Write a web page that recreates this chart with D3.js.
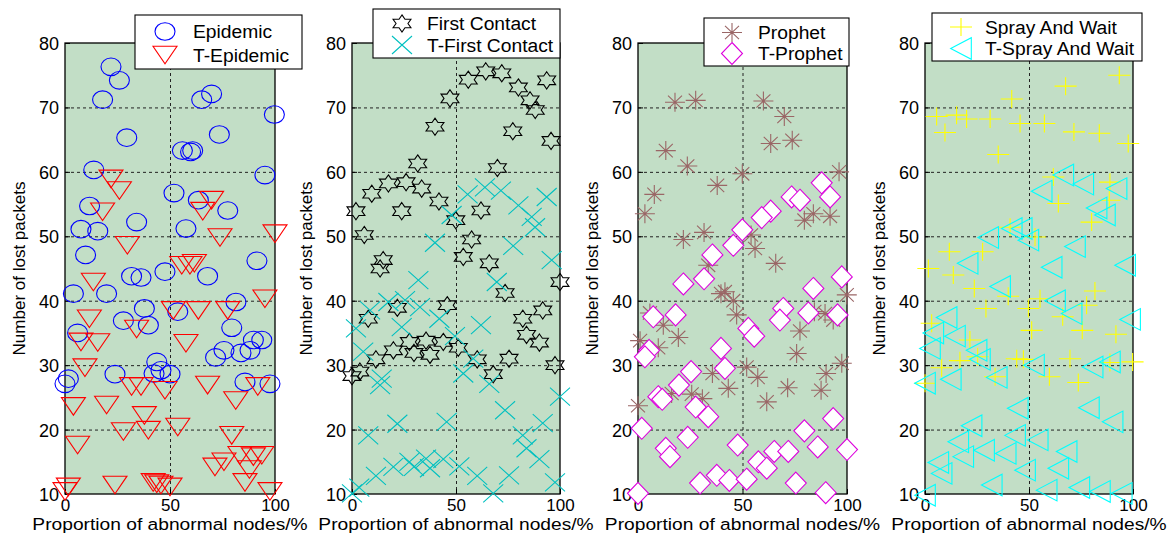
<!DOCTYPE html>
<html>
<head>
<meta charset="utf-8">
<title>Lost packets</title>
<script src="https://d3js.org/d3.v7.min.js"></script>
<style>
  body { margin: 0; background: #fff; }
  text { font-family: "Liberation Sans", Arial, sans-serif; fill: #000; }
</style>
</head>
<body>
<div id="chart"></div>
<script>
// data: [proportion of abnormal nodes %, lost packets]
const epidemic = [[21.9,76.3],[25.9,74.2],[17.9,71.2],[29.4,65.3],[65.1,71.2],[69.8,72.1],[99.7,68.9],[73.5,65.8],[55.9,63.3],[59.8,63.1],[60.8,63.3],[13.7,60.3],[95.2,59.5],[51.9,56.7],[63.5,55.6],[77.5,54.0],[11.7,54.7],[34.1,52.2],[7.6,51.1],[15.6,50.8],[57.6,51.2],[9.8,47.1],[91.4,46.2],[31.7,43.8],[36.2,43.6],[47.6,44.5],[67.9,43.8],[4.0,41.1],[19.8,41.1],[37.8,38.8],[27.8,36.9],[39.7,36.2],[6.0,35.0],[53.7,38.3],[81.4,39.8],[79.4,35.8],[71.7,31.2],[75.7,32.3],[83.8,31.9],[88.1,32.3],[89.7,33.9],[93.7,33.9],[43.7,30.5],[45.7,29.2],[42.4,28.7],[50.0,28.6],[23.8,28.6],[1.6,27.9],[0,27.1],[85.7,27.4],[97.6,27.1]];
const tEpidemic = [[21.9,58.9],[25.9,57.1],[17.9,53.8],[69.8,55.6],[65.6,53.9],[100,50.4],[73.8,49.8],[29.7,48.6],[55.6,45.5],[59.5,45.5],[61.6,45.8],[13.5,42.9],[95.2,40.3],[51.6,38.5],[63.5,38.5],[77.5,38.5],[11.6,37.2],[34.1,35.6],[7.6,33.6],[15.6,33.5],[57.6,33.4],[9.5,29.6],[31.7,26.7],[36.2,26.7],[47.6,26.1],[67.9,26.9],[91.8,26.7],[4.0,23.6],[19.8,23.8],[81.3,24.5],[37.8,22.2],[27.8,19.7],[39.7,19.9],[53.7,20.4],[79.4,19.1],[6.0,17.6],[83.3,16.0],[89.7,15.8],[93.7,16.0],[75.7,15.0],[71.4,14.2],[87.8,13.8],[85.7,11.8],[23.8,11.4],[42.0,11.8],[43.7,11.6],[45.7,11.4],[50.0,11.1],[1.6,11.1],[0,10.4],[97.6,10.4]];
const firstContact = [[55.9,74.3],[64.3,75.6],[72.0,75.3],[80.0,73.1],[93.6,74.2],[85.6,71.1],[88.1,69.6],[47.1,71.4],[39.9,67.0],[77.3,66.3],[95.7,64.8],[31.6,61.3],[69.9,60.6],[9.5,56.6],[17.5,58.2],[26.0,58.4],[33.5,57.4],[23.9,53.9],[1.9,53.9],[41.8,55.4],[49.9,52.5],[62.0,54.0],[5.9,50.2],[57.5,49.5],[53.5,46.8],[15.0,46.3],[13.5,45.0],[66.0,45.8],[100,42.9],[73.6,41.2],[45.8,39.3],[21.8,38.9],[7.8,37.2],[91.7,38.5],[82.1,37.2],[83.9,34.7],[90.1,33.5],[27.6,33.6],[35.6,33.8],[43.9,33.6],[51.1,32.7],[19.9,32.3],[29.8,31.9],[37.5,31.6],[11.5,30.9],[60.2,30.9],[75.5,31.0],[97.6,30.0],[3.8,29.0],[0,28.3],[67.9,28.6]];
const tFirstContact = [[63.9,57.6],[71.6,57.1],[55.6,56.5],[93.6,56.1],[80.0,54.8],[86.4,53.0],[88.0,51.4],[47.9,53.3],[39.9,49.0],[77.5,48.5],[96.0,46.3],[31.9,43.2],[69.6,42.9],[17.5,39.8],[25.5,40.1],[32.7,39.0],[8.7,38.5],[42.0,37.2],[23.9,35.9],[62.0,36.2],[1.9,35.7],[49.5,34.5],[5.4,32.1],[58.3,31.0],[53.5,28.7],[66.0,27.1],[14.3,27.9],[13.5,26.9],[100,25.1],[73.6,23.0],[45.5,21.2],[21.8,20.9],[91.7,21.0],[7.8,19.1],[82.1,19.1],[83.9,17.1],[90.1,15.4],[27.6,15.0],[35.6,15.5],[43.9,15.4],[19.9,14.2],[29.8,14.2],[37.5,14.0],[51.6,14.3],[11.5,12.8],[60.2,12.8],[75.5,12.9],[97.6,11.8],[3.5,11.0],[0,10.1],[67.9,10.1]];
const prophet = [[17.7,70.8],[27.6,71.1],[60.0,71.0],[70.0,68.6],[13.3,63.3],[63.5,64.4],[73.8,64.9],[23.6,60.9],[49.9,59.7],[96.2,60.0],[37.9,57.9],[7.8,56.5],[3.3,53.5],[79.6,52.5],[83.9,53.5],[91.9,53.1],[21.7,49.5],[31.6,50.6],[54.1,50.2],[56.0,48.1],[65.9,45.8],[33.6,45.5],[39.7,41.1],[41.6,41.4],[45.6,40.0],[99.9,40.9],[47.2,37.8],[5.7,38.1],[12.1,36.2],[84.4,38.3],[89.5,38.0],[93.4,37.0],[77.5,35.3],[19.3,34.3],[1.0,33.8],[9.7,32.7],[75.9,31.8],[97.5,30.3],[52.0,29.7],[57.3,28.1],[35.6,28.7],[90.0,28.7],[43.2,26.4],[71.6,26.5],[87.6,26.1],[16.1,25.6],[25.7,25.5],[30.8,24.8],[61.6,24.3],[0,23.7]];
const tProphet = [[87.9,58.3],[91.9,56.1],[73.5,56.1],[77.5,55.6],[63.5,53.9],[59.2,52.9],[49.9,51.0],[45.6,48.6],[35.6,47.1],[97.5,43.7],[21.7,42.6],[31.6,43.4],[83.9,41.9],[7.3,37.5],[18.0,37.8],[69.5,38.8],[67.9,37.0],[81.5,38.1],[95.5,37.8],[52.8,35.7],[55.6,34.5],[39.7,32.6],[5.3,32.3],[3.3,31.3],[25.4,29.0],[41.6,29.5],[19.6,26.9],[9.7,25.1],[11.6,24.7],[27.6,23.5],[33.6,22.0],[93.4,21.7],[1.8,20.2],[79.6,19.8],[23.8,18.8],[13.3,17.1],[15.3,15.8],[47.7,17.6],[86.0,17.3],[100,16.9],[65.2,16.6],[71.9,16.6],[57.6,15.0],[61.6,14.0],[37.7,12.9],[43.7,12.1],[52.0,12.3],[29.7,11.7],[75.5,11.7],[89.8,10.2],[0,10.1]];
const sprayWait = [[93.4,75.0],[67.6,73.3],[41.7,71.3],[5.6,68.6],[15.2,68.8],[20.0,68.2],[31.3,68.2],[45.7,67.5],[57.4,67.5],[9.6,66.1],[71.6,66.2],[83.8,66.0],[97.7,64.4],[35.2,62.7],[61.7,59.2],[88.9,58.4],[88.6,55.6],[64.1,55.1],[80.1,52.2],[40.9,51.4],[52.9,49.9],[11.7,47.6],[27.7,47.6],[1.6,45.0],[13.6,44.0],[23.7,41.9],[81.7,41.5],[40.0,40.7],[55.3,40.3],[77.7,39.3],[29.3,38.8],[49.7,38.8],[66.2,37.5],[3.2,36.5],[75.6,35.4],[51.3,35.4],[91.8,34.8],[21.6,33.9],[25.3,31.3],[16.8,30.7],[44.1,31.0],[47.3,30.9],[69.7,31.0],[88.9,30.4],[99.8,30.5],[8.0,29.6],[33.7,28.2],[59.8,28.2],[73.7,27.3],[0,27.2]];
const tSprayWait = [[66.5,59.5],[76.1,58.1],[92.1,57.4],[56.1,57.0],[82.5,54.4],[86.5,53.3],[46.5,51.2],[41.7,51.2],[49.7,49.4],[30.4,49.8],[72.1,48.4],[20.5,45.8],[60.9,45.2],[96.2,45.5],[36.1,42.2],[62.5,40.0],[70.5,38.0],[98.6,37.1],[10.4,37.4],[4.0,35.0],[14.4,34.5],[2.4,32.6],[24.8,32.3],[26.4,30.9],[52.4,30.0],[80.6,29.7],[88.9,30.5],[12.4,27.8],[34.5,28.1],[0,27.2],[44.6,23.3],[78.8,23.4],[90.2,21.2],[22.4,20.6],[43.3,19.1],[54.2,18.4],[16.0,18.1],[28.4,16.8],[38.8,16.3],[68.1,16.6],[18.4,15.8],[6.4,14.9],[64.1,14.0],[48.1,13.7],[8.0,13.2],[32.1,11.4],[58.5,10.6],[74.2,11.0],[84.1,10.4],[94.6,10.1],[0,9.8]];

const xTicks = [0, 50, 100];
const yTicks = [10, 20, 30, 40, 50, 60, 70, 80];
const xTitle = "Proportion of abnormal nodes/%";
const yTitle = "Number of lost packets";

// marker outlines, centred on 0,0
function hexagram() {
    let pts = [];
    for (let k = 0; k < 12; k++) {
        let a = (-90 + 30 * k) * Math.PI / 180;
        let r = k % 2 === 0 ? 8.6 : 8.6 / Math.sqrt(3);
        pts.push([1.2 * r * Math.cos(a), r * Math.sin(a)]);
    }
    return "M" + pts.map(p => p[0].toFixed(2) + "," + p[1].toFixed(2)).join("L") + "Z";
}
const shapes = {
    circle: "M-10,0A10,8.8 0 1,0 10,0A10,8.8 0 1,0 -10,0Z",
    triDown: "M-12,-8.8L12,-8.8L0,8.8Z",
    star: hexagram(),
    cross: "M-10,-9L10,9M-10,9L10,-9",
    asterisk: "M-10,0L10,0M0,-9.5L0,9.5M-7,-6.7L7,6.7M-7,6.7L7,-6.7",
    diamond: "M0,-11L10.5,0L0,11L-10.5,0Z",
    plus: "M-11,0L11,0M0,-9L0,9",
    triLeft: "M-10.3,0L10.3,-10.8L10.3,10.8Z"
};

// each panel: two series, legend box
const panels = [
    {left: 65, right: 275, series: [
        {name: "Epidemic", data: epidemic, shape: "circle", color: "#0000ff", fill: "none"},
        {name: "T-Epidemic", data: tEpidemic, shape: "triDown", color: "#ff0000", fill: "none"}],
     legend: {x0: 135, y0: 15, x1: 302, y1: 69, mx: 165, tx: 193, rows: [31.5, 55]}},
    {left: 352, right: 560, series: [
        {name: "First Contact", data: firstContact, shape: "star", color: "#000000", fill: "none"},
        {name: "T-First Contact", data: tFirstContact, shape: "cross", color: "#00c0c0", fill: "none"}],
     legend: {x0: 373, y0: 9, x1: 560, y1: 58, mx: 402, tx: 427, rows: [23.5, 45]}},
    {left: 638, right: 847, series: [
        {name: "Prophet", data: prophet, shape: "asterisk", color: "#9a6666", fill: "none"},
        {name: "T-Prophet", data: tProphet, shape: "diamond", color: "#dd00dd", fill: "#ffffff"}],
     legend: {x0: 704, y0: 18, x1: 849, y1: 66, mx: 732, tx: 758, rows: [32.5, 53.5]}},
    {left: 925, right: 1133, series: [
        {name: "Spray And Wait", data: sprayWait, shape: "plus", color: "#ffff00", fill: "none"},
        {name: "T-Spray And Wait", data: tSprayWait, shape: "triLeft", color: "#00ffff", fill: "none"}],
     legend: {x0: 932, y0: 13, x1: 1142, y1: 61, mx: 961, tx: 985, rows: [27, 48.5]}}
];

let svg = d3.select("#chart")
    .append("svg")
        .attr("width", 1171)
        .attr("height", 538);

svg.append("rect").attr("width", 1171).attr("height", 538).attr("fill", "#fff");

let plotTop = 43, plotBottom = 494;
let yScale = d3.scaleLinear().domain([10, 80]).range([plotBottom, plotTop]);

panels.forEach(function(p) {
    let xScale = d3.scaleLinear().domain([0, 100]).range([p.left, p.right]);
    let g = svg.append("g");

    // plot background
    g.append("rect")
        .attr("x", p.left).attr("y", plotTop)
        .attr("width", p.right - p.left).attr("height", plotBottom - plotTop)
        .attr("fill", "#c2dec6");

    // dashed grid
    g.append("g")
        .attr("transform", "translate(" + p.left + ",0)")
        .call(d3.axisRight(yScale).tickValues(yTicks.slice(1, -1)).tickSize(p.right - p.left).tickFormat(""))
        .call(s => s.select(".domain").remove())
        .selectAll("line").attr("stroke", "#222").attr("stroke-dasharray", "3,3");
    g.append("g")
        .attr("transform", "translate(0," + plotTop + ")")
        .call(d3.axisBottom(xScale).tickValues([50]).tickSize(plotBottom - plotTop).tickFormat(""))
        .call(s => s.select(".domain").remove())
        .selectAll("line").attr("stroke", "#222").attr("stroke-dasharray", "3,3");

    // y axis labels with inner ticks
    let ya = g.append("g")
        .attr("transform", "translate(" + p.left + ",0)")
        .call(d3.axisLeft(yScale).tickValues(yTicks).tickSizeInner(-5).tickSizeOuter(0).tickPadding(6));
    ya.select(".domain").remove();
    ya.selectAll("line").attr("stroke", "#000");
    ya.selectAll("text").attr("font-size", "18px").attr("dy", "0.36em")
        .attr("font-family", "Liberation Sans, Arial, sans-serif");

    let xa = g.append("g")
        .attr("transform", "translate(0," + plotBottom + ")")
        .call(d3.axisBottom(xScale).tickValues(xTicks).tickSizeInner(-5).tickSizeOuter(0).tickPadding(5));
    xa.select(".domain").remove();
    xa.selectAll("line").attr("stroke", "#000");
    xa.selectAll("text").attr("font-size", "17px").attr("dy", "0.71em")
        .attr("font-family", "Liberation Sans, Arial, sans-serif");

    // frame
    g.append("rect")
        .attr("x", p.left).attr("y", plotTop)
        .attr("width", p.right - p.left).attr("height", plotBottom - plotTop)
        .attr("fill", "none").attr("stroke", "#000").attr("stroke-width", 1.3);

    // markers
    p.series.forEach(function(s) {
        g.append("g").selectAll("path")
            .data(s.data)
            .enter()
            .append("path")
            .attr("d", shapes[s.shape])
            .attr("transform", d => "translate(" + xScale(d[0]) + "," + yScale(d[1]) + ")")
            .attr("fill", s.fill)
            .attr("stroke", s.color)
            .attr("stroke-width", 1.1);
    });

    // axis titles
    g.append("text")
        .attr("transform", "translate(" + ((p.left + p.right) / 2) + ",530) scale(1.13,1)")
        .attr("text-anchor", "middle")
        .attr("font-size", "17px")
        .text(xTitle);
    g.append("text")
        .attr("transform", "translate(" + (p.left - 40) + "," + ((plotTop + plotBottom) / 2) + ") rotate(-90)")
        .attr("text-anchor", "middle")
        .attr("font-size", "17px")
        .text(yTitle);

    // legend
    let L = p.legend;
    g.append("rect")
        .attr("x", L.x0).attr("y", L.y0)
        .attr("width", L.x1 - L.x0).attr("height", L.y1 - L.y0)
        .attr("fill", "#fff").attr("stroke", "#000").attr("stroke-width", 1.1);
    p.series.forEach(function(s, i) {
        g.append("path")
            .attr("d", shapes[s.shape])
            .attr("transform", "translate(" + L.mx + "," + L.rows[i] + ")")
            .attr("fill", s.fill).attr("stroke", s.color).attr("stroke-width", 1.1);
        g.append("text")
            .attr("transform", "translate(" + L.tx + "," + (L.rows[i] + 6.5) + ") scale(1.07,1)")
            .attr("font-size", "18px")
            .text(s.name);
    });
});
</script>
</body>
</html>
